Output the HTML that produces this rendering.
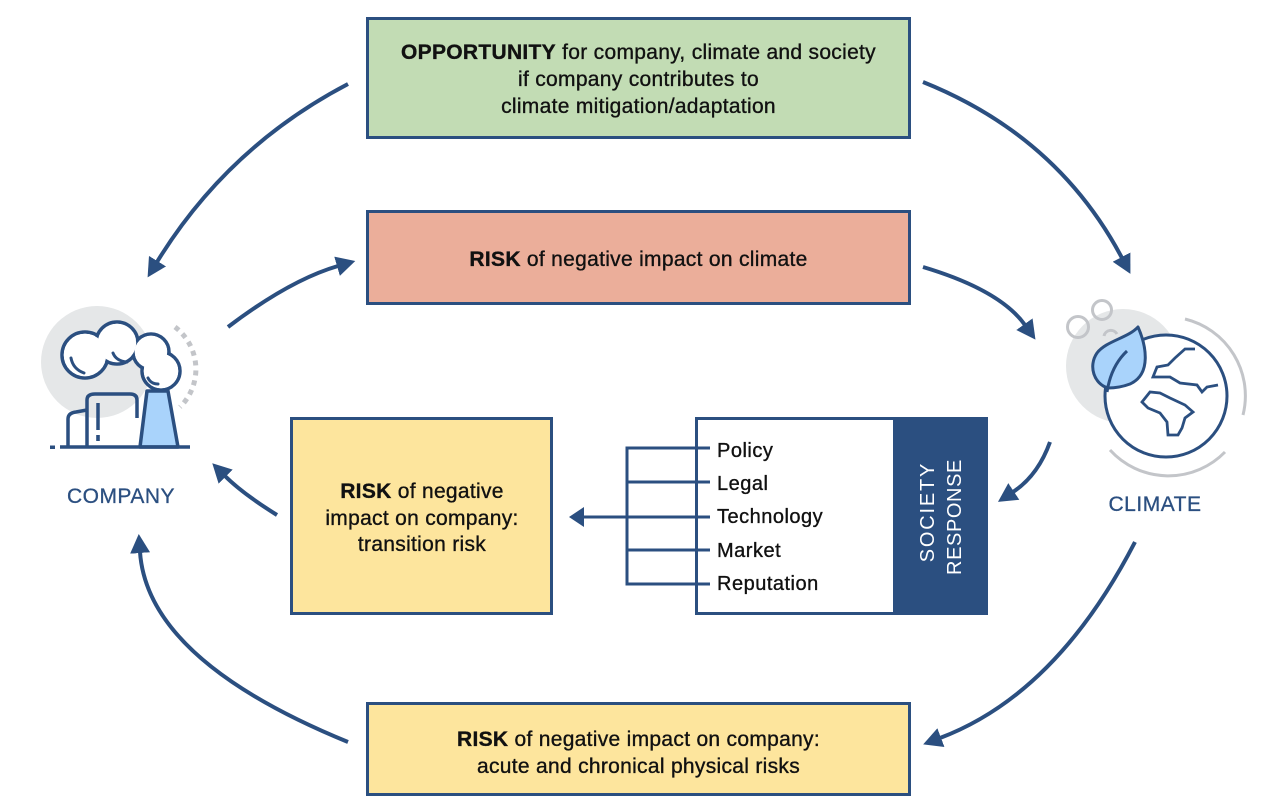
<!DOCTYPE html>
<html><head><meta charset="utf-8"><style>
html,body{margin:0;padding:0;background:#fff;}
svg{display:block;}
text{font-family:"Liberation Sans",sans-serif;}
</style></head><body>
<svg width="1280" height="809" viewBox="0 0 1280 809" xmlns="http://www.w3.org/2000/svg">
<defs>
<marker id="ah" markerUnits="userSpaceOnUse" markerWidth="24" markerHeight="24" viewBox="0 -12 24 24" refX="1" refY="0" orient="auto">
<path d="M0,-10 L19,0 L0,10 Z" fill="#2b4f80"/>
</marker>
</defs>
<rect width="1280" height="809" fill="#fff"/>

<!-- Boxes -->
<rect x="367.5" y="18.5" width="542" height="119" fill="#c2dcb4" stroke="#2b4f80" stroke-width="3"/>
<rect x="367.5" y="211.5" width="542" height="92" fill="#ebae9a" stroke="#2b4f80" stroke-width="3"/>
<rect x="291.5" y="418.5" width="260" height="195" fill="#fde59d" stroke="#2b4f80" stroke-width="3"/>
<rect x="367.5" y="703.5" width="542" height="91" fill="#fde59d" stroke="#2b4f80" stroke-width="3"/>

<!-- Society response -->
<rect x="696.5" y="418.5" width="290" height="195" fill="#fff" stroke="#2b4f80" stroke-width="3"/>
<rect x="893" y="417" width="95" height="198" fill="#2b4f80"/>
<text transform="translate(934,512) rotate(-90)" text-anchor="middle" font-size="20" fill="#fff" letter-spacing="1.8">SOCIETY</text>
<text transform="translate(961,517) rotate(-90)" text-anchor="middle" font-size="20" fill="#fff" letter-spacing="0.6">RESPONSE</text>

<g stroke="#2b4f80" stroke-width="3" fill="none">
<path d="M710,448 H627 V584 H710"/>
<path d="M627,482 H710 M627,517 H710 M627,550 H710"/>
<path d="M627,517 H584"/>
</g>
<path d="M569,517 L584,507 L584,527 Z" fill="#2b4f80"/>
<g font-size="20" fill="#111" stroke="#111" stroke-width="0.35" letter-spacing="0.5">
<text x="717" y="457">Policy</text>
<text x="717" y="490">Legal</text>
<text x="717" y="523">Technology</text>
<text x="717" y="557">Market</text>
<text x="717" y="590">Reputation</text>
</g>

<!-- Box texts -->
<g font-size="21" fill="#111" stroke="#111" stroke-width="0.35" text-anchor="middle" letter-spacing="0.3">
<text x="638.5" y="59"><tspan font-weight="bold">OPPORTUNITY</tspan> for company, climate and society</text>
<text x="638.5" y="86">if company contributes to</text>
<text x="638.5" y="113">climate mitigation/adaptation</text>
<text x="638.5" y="266"><tspan font-weight="bold">RISK</tspan> of negative impact on climate</text>
<text x="422" y="498"><tspan font-weight="bold">RISK</tspan> of negative</text>
<text x="422" y="525">impact on company:</text>
<text x="422" y="551">transition risk</text>
<text x="638.5" y="746"><tspan font-weight="bold">RISK</tspan> of negative impact on company:</text>
<text x="638.5" y="773">acute and chronical physical risks</text>
</g>

<!-- Arrows -->
<g stroke="#2b4f80" stroke-width="4" fill="none" marker-end="url(#ah)">
<path d="M348,84 Q227.5,147 157,262"/>
<path d="M228,327 Q290,280 338,266"/>
<path d="M923,82 Q1057.5,136 1122,258"/>
<path d="M923,267 Q1000,290 1025,325"/>
<path d="M1050,442 Q1038,475.5 1013,492"/>
<path d="M277,515 Q242.5,493.5 225,476"/>
<path d="M1135,542 Q1056.5,694 940,738"/>
<path d="M348,742 Q147.5,660 140,552"/>
</g>

<!-- Company icon -->
<circle cx="97" cy="362" r="56" fill="#e5e7e8"/>
<path d="M175,327 A53,53 0 0 1 180,407" fill="none" stroke="#c3c5c9" stroke-width="5" stroke-dasharray="5 5"/>
<g stroke="#2b4f80" stroke-width="3.5" fill="#fff">
<circle cx="85" cy="355" r="23"/>
<circle cx="117" cy="343" r="21"/>
<circle cx="151" cy="352" r="18"/>
<circle cx="161" cy="371" r="19"/>
</g>
<g fill="#fff">
<circle cx="85" cy="355" r="21.2"/>
<circle cx="117" cy="343" r="19.2"/>
<circle cx="151" cy="352" r="16.2"/>
<circle cx="161" cy="371" r="17.2"/>
</g>
<g stroke="#2b4f80" stroke-width="3" fill="none" stroke-linecap="round">
<path d="M71,358 Q73,369 84,373"/>
<path d="M113,353 Q116,361 127,362"/>
<path d="M148,378 Q151,384 158,384"/>
</g>
<path d="M147,391 L168,391 L178,447 L140,447 Z" fill="#a9d3fb" stroke="#2b4f80" stroke-width="3.5" stroke-linejoin="round"/>
<g stroke="#2b4f80" stroke-width="3.5" fill="none">
<path d="M87,447 V400 Q87,394 95,394 H130 Q137,394 137,400 V418"/>
<path d="M68,447 V419 Q68,413 76,412 L87,410"/>
<path d="M98,403 V430"/>
<path d="M60,447 H190"/>
</g>
<rect x="96.2" y="435" width="3.6" height="6" fill="#2b4f80"/>
<rect x="50" y="445.5" width="5" height="3.5" fill="#2b4f80"/>
<text x="121" y="503" text-anchor="middle" font-size="21" fill="#2b4f80" stroke="#2b4f80" stroke-width="0.3" letter-spacing="0.5">COMPANY</text>

<!-- Climate icon -->
<circle cx="1123" cy="366" r="57" fill="#e5e7e8"/>
<g fill="none" stroke="#c3c5c9" stroke-width="3">
<path d="M1185,319 A79,79 0 0 1 1243,415"/>
<path d="M1110,450 A79,79 0 0 0 1225,452"/>
<circle cx="1078" cy="327" r="10.5"/>
<circle cx="1102" cy="310" r="9.5"/>
<path d="M1104,336 A7,7 0 0 1 1117,334"/>
</g>
<circle cx="1166" cy="396" r="61" fill="#fff" stroke="#2b4f80" stroke-width="3"/>
<path d="M1138,327 C1146,345 1152,374 1130,384 C1122,387 1114,388 1108,388 C1094,384 1088,366 1097,353 C1106,341 1128,338 1138,327 Z" fill="#a9d3fb" stroke="#2b4f80" stroke-width="3" stroke-linejoin="round"/>
<path d="M1127,351 Q1111,366 1107,392" fill="none" stroke="#2b4f80" stroke-width="3"/>
<g fill="none" stroke="#2b4f80" stroke-width="2.8" stroke-linejoin="miter">
<path d="M1195,349 L1185,349 L1175,358 L1168,365 L1157,367 L1153,377 L1170,377 L1180,383 L1197,385 L1202,392 L1207,387 L1218,385"/>
<path d="M1142,402 L1150,392 L1160,393 L1170,398 L1185,405 L1193,412 L1185,418 L1182,428 L1178,435 L1168,435 L1167,422 L1160,413 L1148,408 Z"/>
</g>
<text x="1155" y="511" text-anchor="middle" font-size="21" fill="#2b4f80" stroke="#2b4f80" stroke-width="0.3" letter-spacing="0.5">CLIMATE</text>
</svg>
</body></html>
